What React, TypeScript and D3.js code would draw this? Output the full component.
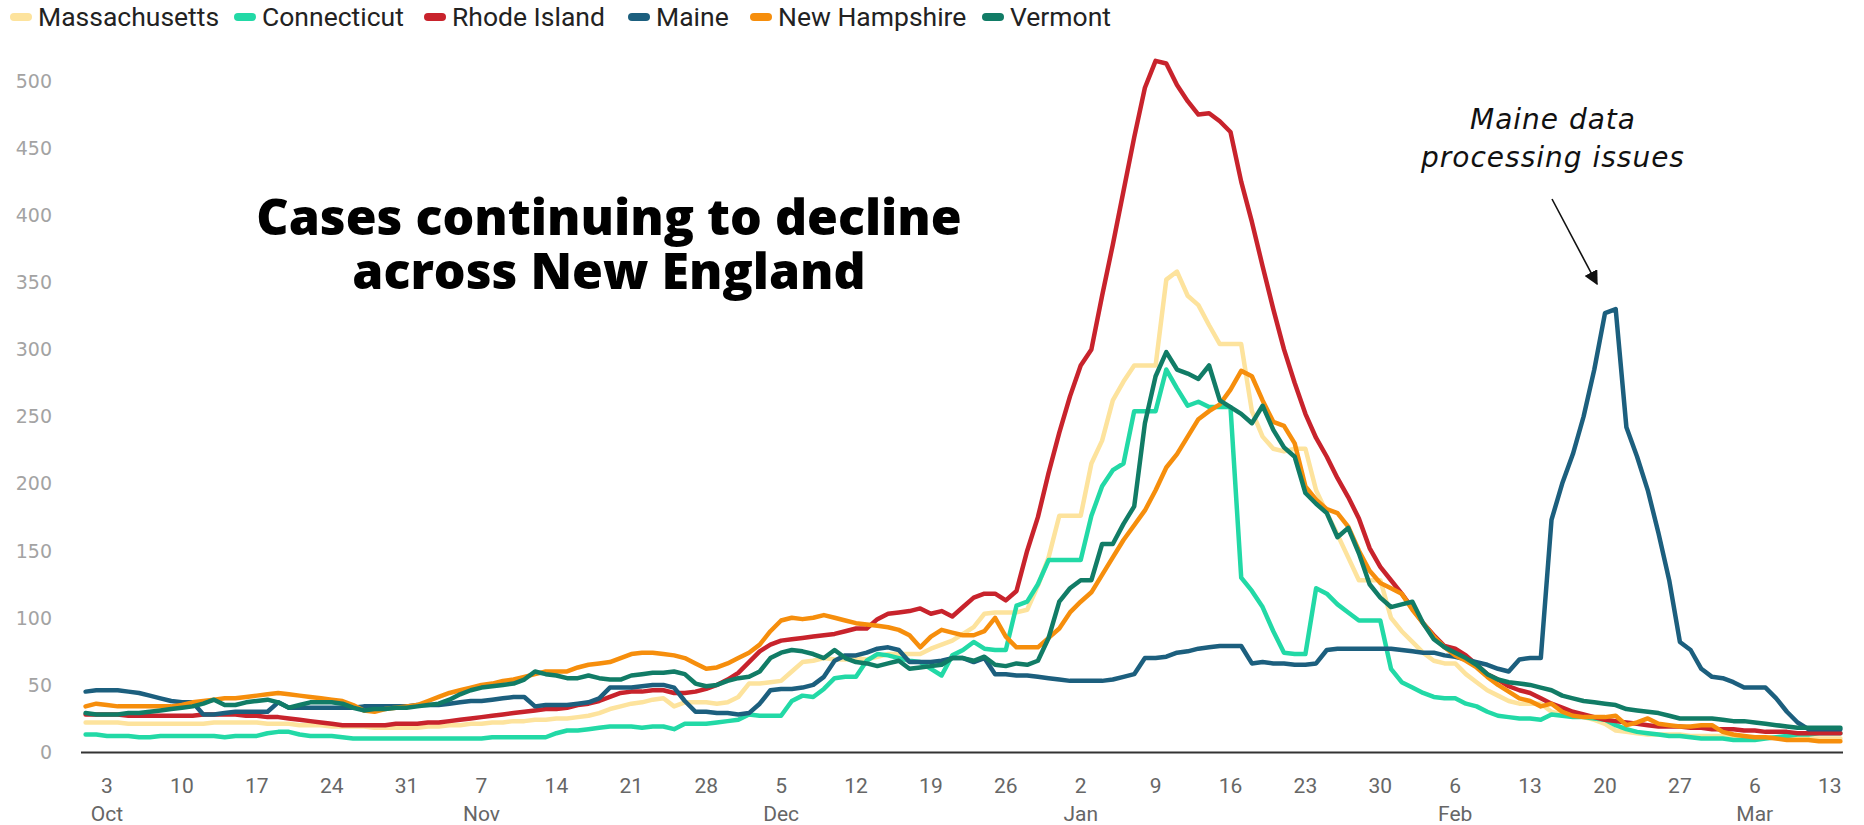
import React from "react";
import * as d3 from "d3";

const W = 1864;
const H = 825;

const startDate = new Date(2021, 9, 1);
const endDate = new Date(2022, 2, 14);

const seriesNames = ["Massachusetts", "Connecticut", "Rhode Island", "Maine", "New Hampshire", "Vermont"];
const seriesColors = ["#fde39d", "#22d9a6", "#c8232c", "#1c5f7e", "#f68e0c", "#117c66"];

// daily values starting Oct 1, 2021
const massachusetts = [
  22, 22, 22, 22, 21, 21, 21, 21, 21, 21,
  21, 21, 22, 22, 22, 22, 22, 21, 21, 21,
  20, 20, 20, 19, 19, 19, 19, 18, 18, 18,
  18, 18, 19, 19, 20, 20, 21, 21, 22, 22,
  23, 23, 24, 24, 25, 25, 26, 27, 29, 32,
  34, 36, 37, 39, 40, 34, 37, 37, 37, 36,
  37, 41, 51, 51, 52, 53, 60, 67, 68, 70,
  69, 69, 70, 69, 71, 73, 73, 73, 73, 77,
  80, 83, 88, 93, 103, 104, 104, 104, 106, 124,
  145, 176, 176, 176, 215, 232, 262, 276, 288, 288,
  288, 352, 358, 340, 333, 318, 304, 304, 304, 254,
  235, 226, 224, 226, 226, 195, 178, 162, 145, 128,
  128, 128, 100, 90, 82, 74, 68, 66, 66, 58,
  52, 46, 42, 38, 36, 36, 36, 30, 28, 27,
  26, 24, 21, 16, 15, 14, 13, 13, 13, 13,
  12, 12, 12, 12, 12, 11, 11, 11, 11, 11,
  11, 10, 10, 10, 10,
];

const connecticut = [
  13, 13, 12, 12, 12, 11, 11, 12, 12, 12,
  12, 12, 12, 11, 12, 12, 12, 14, 15, 15,
  13, 12, 12, 12, 11, 10, 10, 10, 10, 10,
  10, 10, 10, 10, 10, 10, 10, 10, 11, 11,
  11, 11, 11, 11, 14, 16, 16, 17, 18, 19,
  19, 19, 18, 19, 19, 17, 21, 21, 21, 22,
  23, 24, 28, 27, 27, 27, 38, 42, 41, 47,
  55, 56, 56, 68, 73, 72, 70, 68, 67, 62,
  57, 72, 76, 82, 77, 76, 76, 109, 112, 125,
  143, 143, 143, 143, 176, 198, 210, 215, 254, 254,
  254, 285, 271, 258, 261, 257, 257, 257, 130, 120,
  108, 90, 74, 73, 73, 122, 118, 110, 104, 98,
  98, 98, 62, 52, 48, 44, 41, 40, 40, 36,
  34, 30, 27, 26, 25, 25, 24, 28, 27, 26,
  26, 25, 24, 20, 17, 15, 14, 13, 12, 12,
  11, 10, 10, 10, 9, 9, 9, 10, 11, 12,
  13, 13, 14, 14, 14,
];

const rhodeIsland = [
  28, 28, 28, 28, 27, 27, 27, 27, 27, 27,
  27, 28, 28, 28, 28, 27, 27, 26, 26, 25,
  24, 23, 22, 21, 20, 20, 20, 20, 20, 21,
  21, 21, 22, 22, 23, 24, 25, 26, 27, 28,
  29, 30, 31, 32, 32, 33, 35, 36, 38, 41,
  44, 45, 45, 46, 46, 44, 44, 45, 47, 50,
  54, 59, 67, 75, 80, 83, 84, 85, 86, 87,
  88, 90, 92, 92, 99, 103, 104, 105, 107, 103,
  105, 101, 108, 115, 118, 118, 113, 120, 150, 175,
  208, 238, 265, 288, 300, 340, 378, 418, 458, 495,
  515, 513, 497, 485, 475, 476, 470, 462, 425, 395,
  362, 330, 300, 275, 252, 234, 220, 204, 190, 174,
  152, 138, 128, 118, 107, 96, 87, 79, 77, 72,
  65, 58, 54, 49, 46, 44, 40, 36, 33, 30,
  28, 26, 24, 23, 22, 21, 20, 19, 19, 19,
  18, 18, 17, 17, 17, 16, 16, 15, 15, 15,
  14, 14, 14, 14, 14,
];

const maine = [
  45, 46, 46, 46, 45, 44, 42, 40, 38, 37,
  37, 28, 28, 29, 30, 30, 30, 30, 37, 33,
  33, 33, 33, 33, 33, 33, 34, 34, 34, 34,
  34, 35, 35, 35, 36, 37, 38, 38, 39, 40,
  41, 41, 34, 35, 35, 35, 36, 37, 40, 48,
  48, 48, 49, 50, 50, 48, 38, 30, 30, 29,
  29, 28, 29, 36, 46, 47, 47, 48, 50, 56,
  68, 72, 72, 74, 77, 78, 76, 67, 67, 67,
  68, 70, 70, 67, 70, 58, 58, 57, 57, 56,
  55, 54, 53, 53, 53, 53, 54, 56, 58, 70,
  70, 71, 74, 75, 77, 78, 79, 79, 79, 66,
  67, 66, 66, 65, 65, 66, 76, 77, 77, 77,
  77, 77, 77, 76, 75, 74, 74, 72, 71, 69,
  67, 65, 62, 60, 69, 70, 70, 173, 200, 222,
  250, 285, 327, 330, 242, 220, 195, 163, 128, 82,
  76, 62, 56, 55, 52, 48, 48, 48, 40, 30,
  22, 17, 17, 17, 17,
];

const newHampshire = [
  34, 36, 35, 34, 34, 34, 34, 34, 34, 35,
  37, 38, 39, 40, 40, 41, 42, 43, 44, 43,
  42, 41, 40, 39, 38, 35, 31, 30, 32, 33,
  34, 35, 38, 41, 44, 46, 48, 50, 51, 53,
  54, 56, 58, 60, 60, 60, 63, 65, 66, 67,
  70, 73, 74, 74, 73, 72, 70, 66, 62, 63,
  66, 70, 74, 80, 90, 98, 100, 99, 100, 102,
  100, 98, 96, 95, 94, 93, 91, 87, 78, 86,
  91, 89, 87, 87, 90, 100, 86, 78, 78, 78,
  85, 92, 104, 112, 119, 132, 145, 158, 169, 180,
  195, 212, 222, 235, 248, 254, 259, 270, 284, 280,
  262, 246, 243, 230, 198, 188, 181, 178, 168, 150,
  135, 126, 122, 118, 106, 96, 86, 78, 72, 68,
  63, 56, 50, 45, 40, 38, 34, 36, 30, 27,
  26, 26, 26, 27, 20, 22, 25, 21, 20, 19,
  19, 20, 20, 15, 13, 12, 11, 11, 10, 9,
  9, 9, 8, 8, 8,
];

const vermont = [
  29, 28, 28, 28, 29, 29, 30, 31, 32, 33,
  34, 36, 39, 35, 35, 37, 38, 39, 37, 33,
  35, 37, 37, 37, 36, 33, 31, 32, 32, 33,
  33, 34, 35, 36, 39, 43, 46, 48, 49, 50,
  51, 54, 60, 58, 57, 55, 55, 57, 55, 54,
  54, 57, 58, 59, 59, 60, 58, 51, 49, 50,
  53, 55, 56, 60, 70, 74, 76, 75, 73, 70,
  76, 70, 67, 66, 64, 66, 68, 62, 63, 64,
  65, 70, 70, 68, 71, 65, 64, 66, 65, 68,
  85, 112, 122, 128, 128, 155, 155, 170, 183, 245,
  280, 298, 285, 282, 278, 288, 262, 257, 252, 245,
  258, 240, 227, 220, 193, 185, 178, 160, 167, 148,
  125, 115, 108, 110, 112, 96, 84, 78, 74, 70,
  65, 58, 54, 52, 51, 50, 48, 46, 42, 40,
  38, 37, 36, 35, 32, 31, 30, 29, 27, 25,
  25, 25, 25, 24, 23, 23, 22, 21, 20, 19,
  18, 18, 18, 18, 18,
];

const seriesValues = [massachusetts, connecticut, rhodeIsland, maine, newHampshire, vermont];

const yTicks = [0, 50, 100, 150, 200, 250, 300, 350, 400, 450, 500];

const titleLines = ["Cases continuing to decline", "across New England"];
const noteLines = ["Maine data", "processing issues"];

// legend layout (pixel positions of each item)
const legendSwatchX = [10, 234, 424, 628, 750, 982];

export default function App() {
  const x = d3.scaleTime().domain([startDate, endDate]).range([85.6, 1840.4]);
  const y = d3.scaleLinear().domain([0, 500]).range([752, 81]);

  const line = d3
    .line<number>()
    .x((_, i) => x(d3.timeDay.offset(startDate, i)))
    .y((d) => y(d));

  const weekTicks = d3.timeSunday.range(startDate, endDate);
  const fmtDay = d3.timeFormat("%-d");
  const fmtMonth = d3.timeFormat("%b");

  const tickFont = "Roboto, 'Noto Sans', sans-serif";

  return (
    <svg
      width={W}
      height={H}
      viewBox={`0 0 ${W} ${H}`}
      style={{ position: "absolute", left: 0, top: 0, background: "#fff" }}
    >
      <defs>
        <marker id="arrowhead" viewBox="0 0 10 10" refX="9" refY="5" markerWidth="9" markerHeight="9" orient="auto">
          <path d="M0,0 L10,5 L0,10 z" fill="#111" />
        </marker>
      </defs>
      <rect x={0} y={0} width={W} height={H} fill="#fff" />

      {/* legend */}
      {seriesNames.map((name, i) => (
        <g key={name}>
          <rect x={legendSwatchX[i]} y={13} width={22} height={8} rx={4} fill={seriesColors[i]} />
          <text
            x={legendSwatchX[i] + 28}
            y={17}
            dy="0.35em"
            fontFamily={tickFont}
            fontSize={26.5}
            fill="#222"
          >
            {name}
          </text>
        </g>
      ))}

      {/* y axis labels */}
      {yTicks.map((t) => (
        <text
          key={t}
          x={52}
          y={y(t)}
          dy="0.36em"
          textAnchor="end"
          fontFamily="'DejaVu Sans', sans-serif"
          fontSize={19}
          fill="#a3a3a3"
        >
          {t}
        </text>
      ))}

      {/* x axis */}
      {weekTicks.map((d) => (
        <g key={d.toISOString()}>
          <text
            x={x(d)}
            y={786}
            dy="0.35em"
            textAnchor="middle"
            fontFamily={tickFont}
            fontSize={21}
            fill="#666"
          >
            {fmtDay(d)}
          </text>
          {d.getDate() <= 7 && (
            <text
              x={x(d)}
              y={814}
              dy="0.35em"
              textAnchor="middle"
              fontFamily={tickFont}
              fontSize={21}
              fill="#666"
            >
              {fmtMonth(d)}
            </text>
          )}
        </g>
      ))}

      {/* series lines */}
      {seriesValues.map((vals, i) => (
        <path
          key={seriesNames[i]}
          d={line(vals) || ""}
          fill="none"
          stroke={seriesColors[i]}
          strokeWidth={4.5}
          strokeLinejoin="round"
          strokeLinecap="round"
        />
      ))}

      <line x1={81} x2={1843} y1={752.5} y2={752.5} stroke="#333" strokeWidth={2} />

      {/* title */}
      {titleLines.map((t, i) => (
        <text
          key={t}
          x={609}
          y={235 + i * 54}
          textAnchor="middle"
          fontFamily="'Open Sans', sans-serif"
          fontWeight={800}
          fontSize={50}
          fill="#000"
        >
          {t}
        </text>
      ))}

      {/* annotation */}
      {noteLines.map((t, i) => (
        <text
          key={t}
          x={1553}
          y={129 + i * 38}
          textAnchor="middle"
          fontFamily="'DejaVu Sans', sans-serif"
          fontStyle="italic"
          fontSize={28}
          letterSpacing={1}
          fill="#111"
        >
          {t}
        </text>
      ))}
      <line x1={1552} y1={199} x2={1597} y2={284} stroke="#111" strokeWidth={1.6} markerEnd="url(#arrowhead)" />
    </svg>
  );
}
